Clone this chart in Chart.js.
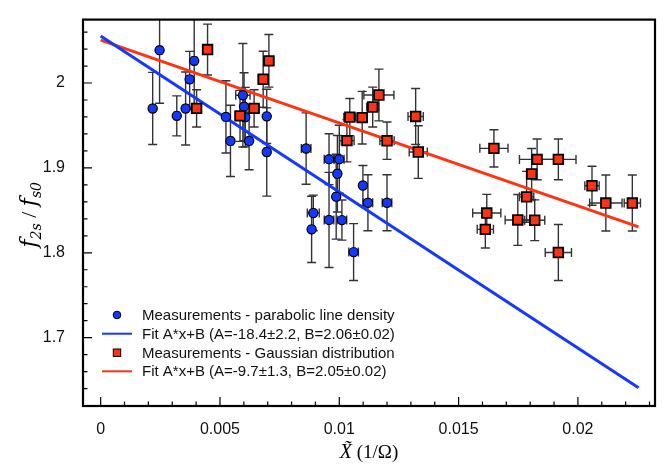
<!DOCTYPE html>
<html>
<head>
<meta charset="utf-8">
<script src="https://cdn.jsdelivr.net/npm/chart.js@4.4.1/dist/chart.umd.min.js"></script>
<style>
  html, body { margin: 0; padding: 0; background: #fff; }
  #wrap { width: 670px; height: 464px; }
</style>
</head>
<body>
<div id="wrap"><canvas id="chart" width="670" height="464"></canvas></div>
<script>
// parabolic line density (blue circles)
const blueX = [0.00218, 0.00247, 0.00319, 0.00356, 0.00373, 0.00392, 0.00525, 0.00544, 0.00596,
  0.00601, 0.00606, 0.00622, 0.00696, 0.00696, 0.00861, 0.00957, 0.01000, 0.00992, 0.01099,
  0.00987, 0.01120, 0.01200, 0.00891, 0.00884, 0.00957, 0.01011, 0.01060];
const blueY = [1.970, 2.0387, 1.9613, 1.970, 2.0043, 2.0261, 1.9601, 1.9318, 1.9856,
  1.9721, 1.9598, 1.9318, 1.9607, 1.9187, 1.9228, 1.9103, 1.9103, 1.8931, 1.8793,
  1.8661, 1.8589, 1.8589, 1.8469, 1.8276, 1.8387, 1.8385, 1.8008];
const blueYErr = [0.0425, 0.0625, 0.0236, 0.043, 0.033, 0.057, 0.0425, 0.042, 0.061,
  0.040, 0.035, 0.034, 0.032, 0.052, 0.042, 0.030, 0.040, 0.045, 0.0235,
  0.050, 0.033, 0.033, 0.021, 0.039, 0.056, 0.0236, 0.0335];
const blueXErr = [0.0001, 0.0001, 0.0001, 0.0001, 0.0001, 0.0001, 0.0001, 0.0001, 0.0003,
  0.0001, 0.0001, 0.0001, 0.0001, 0.0001, 0.0002, 0.0002, 0.0002, 0.0001, 0.0001,
  0.0001, 0.0002, 0.0002, 0.00025, 0.0001, 0.0002, 0.0002, 0.0002];

// Gaussian distribution (red squares)
const redX = [0.00448, 0.00402, 0.00584, 0.00643, 0.00681, 0.00705, 0.01044, 0.01096, 0.01140,
  0.01166, 0.01032, 0.01200, 0.01320, 0.01331, 0.01648, 0.01829, 0.01918, 0.01806, 0.01785,
  0.01618, 0.01612, 0.01748, 0.01819, 0.01918, 0.02059, 0.02117, 0.02228];
const redY = [2.0394, 1.9701, 1.9613, 1.9701, 2.0044, 2.0261, 1.9598, 1.9592, 1.9717,
  1.9859, 1.9321, 1.9320, 1.9606, 1.9187, 1.9230, 1.9100, 1.9100, 1.8928, 1.8659,
  1.8468, 1.8276, 1.8387, 1.8383, 1.8003, 1.8790, 1.8586, 1.8586];
const redYErr = [0.030, 0.022, 0.030, 0.022, 0.033, 0.031, 0.022, 0.031, 0.0235,
  0.0305, 0.025, 0.022, 0.033, 0.031, 0.022, 0.024, 0.024, 0.030, 0.030,
  0.022, 0.022, 0.030, 0.024, 0.033, 0.023, 0.033, 0.033];
const redXErr = [0.0002, 0.0002, 0.0002, 0.0002, 0.0002, 0.0002, 0.00025, 0.0002, 0.00025,
  0.00063, 0.0003, 0.0003, 0.00032, 0.00038, 0.00059, 0.00074, 0.00074, 0.0002, 0.0003,
  0.00059, 0.00034, 0.00053, 0.00042, 0.00055, 0.0003, 0.00068, 0.00034];

// fit line end points
const fitX = [0, 0.02254];
const blueFitY = [2.0555, 1.641];
const redFitY = [2.0505, 1.8305];

const xTicks = [0, 0.005, 0.01, 0.015, 0.02];
const yTicks = [1.7, 1.8, 1.9, 2];
const legendLabels = [
  "Measurements - parabolic line density",
  "Fit A*x+B (A=-18.4\u00b12.2, B=2.06\u00b10.02)",
  "Measurements - Gaussian distribution",
  "Fit A*x+B (A=-9.7\u00b11.3, B=2.05\u00b10.02)",
];

const BLUE = "#1438ff";
const RED = "#ff3311";

const toPts = (xs, ys) => xs.map((v, i) => ({ x: v, y: ys[i] }));

// error bars, drawn under the markers
const errorBars = {
  id: "errorBars",
  beforeDatasetsDraw(chart) {
    const { ctx, chartArea: a, scales: { x, y } } = chart;
    ctx.save();
    ctx.beginPath();
    ctx.rect(a.left, a.top, a.right - a.left, a.bottom - a.top);
    ctx.clip();
    ctx.strokeStyle = "#333";
    ctx.lineWidth = 1.4;
    const cap = 4.5;
    const draw = (xs, ys, xe, ye) => {
      xs.forEach((v, i) => {
        const px = x.getPixelForValue(v), py = y.getPixelForValue(ys[i]);
        const t = y.getPixelForValue(ys[i] + ye[i]), b = y.getPixelForValue(ys[i] - ye[i]);
        const l = x.getPixelForValue(v - xe[i]), r = x.getPixelForValue(v + xe[i]);
        ctx.beginPath();
        ctx.moveTo(px, t); ctx.lineTo(px, b);
        ctx.moveTo(px - cap, t); ctx.lineTo(px + cap, t);
        ctx.moveTo(px - cap, b); ctx.lineTo(px + cap, b);
        ctx.moveTo(l, py); ctx.lineTo(r, py);
        ctx.moveTo(l, py - cap); ctx.lineTo(l, py + cap);
        ctx.moveTo(r, py - cap); ctx.lineTo(r, py + cap);
        ctx.stroke();
      });
    };
    draw(blueX, blueY, blueXErr, blueYErr);
    draw(redX, redY, redXErr, redYErr);
    ctx.restore();
  },
};

// frame, inward ticks, axis titles and legend
const decorations = {
  id: "decorations",
  afterDraw(chart) {
    const { ctx, chartArea: a, scales: { x, y } } = chart;
    ctx.save();
    ctx.strokeStyle = "#000";
    ctx.lineWidth = 1.2;
    ctx.beginPath();
    for (let i = 0; i <= 23; i++) {
      const px = x.getPixelForValue(i / 1000);
      const len = i % 5 === 0 ? 9 : 4.5;
      ctx.moveTo(px, a.bottom); ctx.lineTo(px, a.bottom - len);
    }
    for (let i = 82; i <= 103; i++) {
      const py = y.getPixelForValue(i / 50);
      const len = i % 5 === 0 ? 9 : 4.5;
      ctx.moveTo(a.left, py); ctx.lineTo(a.left + len, py);
    }
    ctx.stroke();

    ctx.lineWidth = 2.2;
    ctx.strokeRect(a.left, a.top, a.right - a.left, a.bottom - a.top);

    // y title: f_{2s} / f_{s0}
    ctx.fillStyle = "#000";
    ctx.translate(30, (a.top + a.bottom) / 2 + 2);
    ctx.rotate(-Math.PI / 2);
    const big = "italic 22px 'DejaVu Serif', 'Liberation Serif', serif";
    const small = "italic 14px 'DejaVu Serif', 'Liberation Serif', serif";
    const plain = "22px 'Liberation Serif', serif";
    const parts = [
      [big, "f", 0], [small, "2s", 5], [plain, " / ", 0], [big, "f", 0], [small, "s0", 5],
    ];
    let w = 0;
    parts.forEach(p => { ctx.font = p[0]; w += ctx.measureText(p[1]).width; });
    let cx = -w / 2;
    ctx.textBaseline = "alphabetic";
    parts.forEach(p => {
      ctx.font = p[0];
      ctx.fillText(p[1], cx, 6 + p[2]);
      cx += ctx.measureText(p[1]).width;
    });
    ctx.restore();

    // x title
    ctx.save();
    ctx.fillStyle = "#000";
    ctx.textBaseline = "alphabetic";
    const xParts = [
      ["italic 20px 'Liberation Serif', serif", "X\u0303"],
      ["19px 'Liberation Serif', serif", " (1/\u03a9)"],
    ];
    let xw = 0;
    xParts.forEach(p => { ctx.font = p[0]; xw += ctx.measureText(p[1]).width; });
    let xx = (a.left + a.right) / 2 - xw / 2;
    xParts.forEach(p => {
      ctx.font = p[0];
      ctx.fillText(p[1], xx, 458);
      xx += ctx.measureText(p[1]).width;
    });
    ctx.restore();

    // legend
    ctx.save();
    const rows = [315, 333.7, 352.7, 371.3];
    ctx.font = "15px 'Liberation Sans', Arial, sans-serif";
    ctx.fillStyle = "#111";
    ctx.textBaseline = "middle";
    legendLabels.forEach((t, i) => ctx.fillText(t, 142, rows[i] + 1));
    ctx.strokeStyle = "#000";
    ctx.lineWidth = 1;
    ctx.fillStyle = BLUE;
    ctx.beginPath();
    ctx.arc(117, rows[0], 3.8, 0, Math.PI * 2);
    ctx.fill(); ctx.stroke();
    ctx.fillStyle = RED;
    ctx.fillRect(113.3, rows[2] - 3.7, 7.4, 7.4);
    ctx.strokeRect(113.3, rows[2] - 3.7, 7.4, 7.4);
    ctx.lineWidth = 2;
    ctx.strokeStyle = BLUE;
    ctx.beginPath(); ctx.moveTo(102, rows[1]); ctx.lineTo(132, rows[1]); ctx.stroke();
    ctx.strokeStyle = RED;
    ctx.beginPath(); ctx.moveTo(102, rows[3]); ctx.lineTo(132, rows[3]); ctx.stroke();
    ctx.restore();
  },
};

new Chart(document.getElementById("chart"), {
  type: "scatter",
  data: {
    datasets: [
      {
        label: legendLabels[1],
        data: toPts(fitX, blueFitY),
        showLine: true,
        borderColor: BLUE,
        borderWidth: 3,
        pointRadius: 0,
        order: 3,
      },
      {
        label: legendLabels[3],
        data: toPts(fitX, redFitY),
        showLine: true,
        borderColor: RED,
        borderWidth: 3,
        pointRadius: 0,
        order: 3,
      },
      {
        label: legendLabels[0],
        data: toPts(blueX, blueY),
        pointStyle: "circle",
        pointRadius: 4.6,
        backgroundColor: BLUE,
        borderColor: "#000",
        borderWidth: 1.2,
        order: 2,
      },
      {
        label: legendLabels[2],
        data: toPts(redX, redY),
        pointStyle: "rect",
        pointRadius: 6.8,
        backgroundColor: RED,
        borderColor: "#000",
        borderWidth: 1.8,
        order: 1,
      },
    ],
  },
  options: {
    responsive: false,
    animation: false,
    devicePixelRatio: 1,
    events: [],
    layout: { padding: { left: 0, top: 10, right: 15, bottom: 0 } },
    plugins: {
      legend: { display: false },
      tooltip: { enabled: false },
    },
    scales: {
      x: {
        type: "linear",
        min: -0.00074,
        max: 0.02323,
        afterBuildTicks: s => { s.ticks = xTicks.map(v => ({ value: v })); },
        afterFit: s => { s.height = 58; },
        grid: { display: false },
        border: { display: false },
        ticks: {
          padding: 6,
          color: "#111",
          font: { family: "'Liberation Sans', Arial, sans-serif", size: 16 },
          callback: v => String(v),
        },
      },
      y: {
        type: "linear",
        min: 1.6195,
        max: 2.0747,
        afterBuildTicks: s => { s.ticks = yTicks.map(v => ({ value: v })); },
        afterFit: s => { s.width = 83; },
        grid: { display: false },
        border: { display: false },
        ticks: {
          padding: 10,
          color: "#111",
          font: { family: "'Liberation Sans', Arial, sans-serif", size: 16 },
          callback: v => String(v),
        },
      },
    },
  },
  plugins: [errorBars, decorations],
});
</script>
</body>
</html>
